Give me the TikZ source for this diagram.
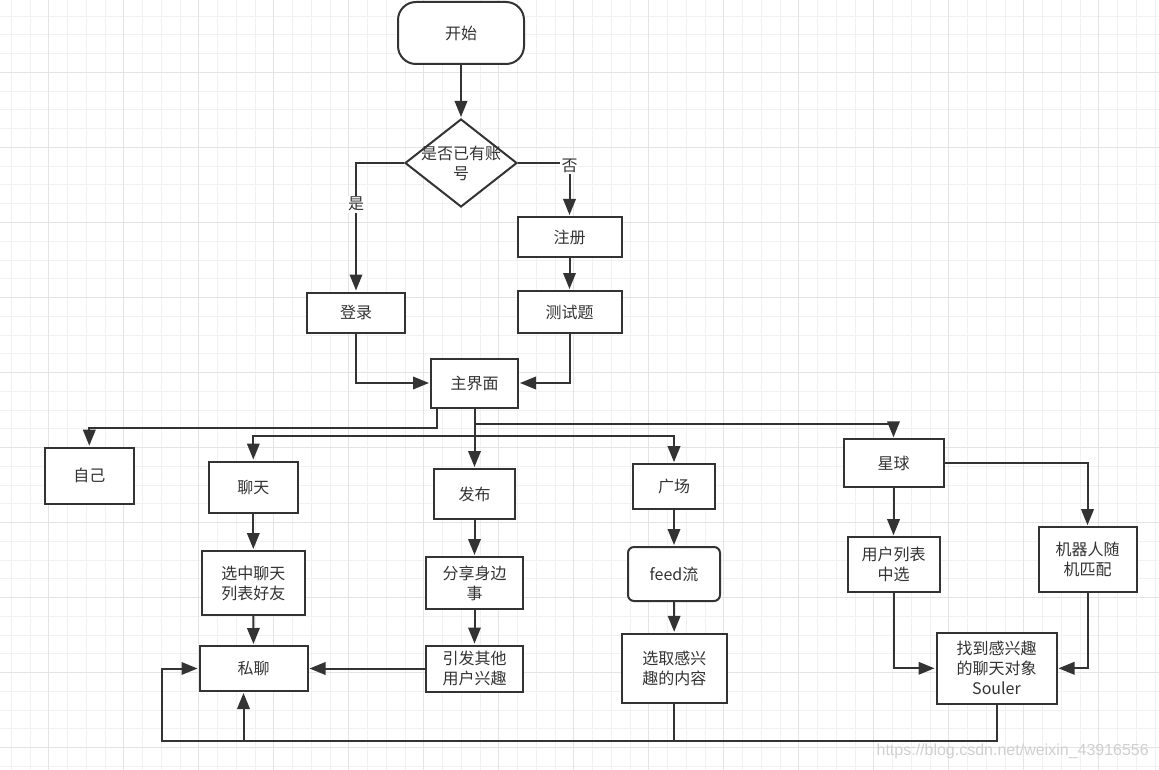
\documentclass[tikz,border=0pt]{standalone}
\usepackage{fontspec}
\setmainfont{Noto Sans CJK SC}
\newfontfamily\wmfont{Liberation Sans}
\usetikzlibrary{arrows.meta,shapes.geometric}
\definecolor{linec}{HTML}{333333}
\definecolor{textc}{HTML}{333333}
\definecolor{gridminor}{HTML}{F1F1F1}
\definecolor{gridmajor}{HTML}{E4E4E4}
\definecolor{wmc}{HTML}{D0D0D0}
\tikzset{
  box/.style={draw=linec, line width=2pt, fill=white, text=textc, align=center,
    inner sep=0pt, font=\fontsize{16}{20}\selectfont},
  txt/.style={text=textc, align=center, inner sep=0pt, font=\fontsize{16}{20}\selectfont},
  lbl/.style={fill=white, text=textc, inner sep=1.5pt, font=\fontsize{16}{20}\selectfont},
  conn/.style={draw=linec, line width=2pt},
  arr/.style={conn, -{Triangle[length=16pt,width=12.5pt]}, shorten >=1pt},
}
\begin{document}
\begin{tikzpicture}[x=1pt,y=-1pt]
\useasboundingbox (0,0) rectangle (1159,770);
\fill[white] (0,0) rectangle (1159,770);
% grid
\foreach \i in {0,...,61} \draw[gridminor, line width=1pt] ({11.25+18.75*\i},0) -- ({11.25+18.75*\i},770);
\foreach \j in {0,...,40} \draw[gridminor, line width=1pt] (0,{16.25+18.75*\j}) -- (1159,{16.25+18.75*\j});
\foreach \i in {0,...,14} \draw[gridmajor, line width=1pt] ({48.75+75*\i},0) -- ({48.75+75*\i},770);
\foreach \j in {0,...,9} \draw[gridmajor, line width=1pt] (0,{72.5+75*\j}) -- (1159,{72.5+75*\j});

% nodes
\node[box, rounded corners=18pt, minimum width=126pt, minimum height=62pt] (start) at (461,33) {开始};
\node[diamond, draw=linec, line width=2pt, fill=white, inner sep=0pt, minimum width=112pt, minimum height=88pt] (q) at (461,163) {};
\node[txt] (qt) at (461,163) {是否已有账\\号};
\node[box, minimum width=98pt, minimum height=40pt] (login) at (356,312.5) {登录};
\node[box, minimum width=104pt, minimum height=40pt] (reg) at (569.5,237) {注册};
\node[box, minimum width=104pt, minimum height=42pt] (test) at (569.5,312) {测试题};
\node[box, minimum width=87pt, minimum height=49pt] (main) at (474.5,383) {主界面};
\node[box, minimum width=89pt, minimum height=56pt] (self) at (89.3,475.7) {自己};
\node[box, minimum width=89pt, minimum height=51pt] (chat) at (253.3,487) {聊天};
\node[box, minimum width=103pt, minimum height=64pt] (sel) at (253.3,583) {选中聊天\\列表好友};
\node[box, minimum width=81pt, minimum height=50pt] (post) at (474.5,494) {发布};
\node[box, minimum width=97pt, minimum height=52pt] (share) at (474.5,583) {分享身边\\事};
\node[box, minimum width=97pt, minimum height=46pt] (attract) at (474.5,668.5) {引发其他\\用户兴趣};
\node[box, minimum width=108pt, minimum height=45pt] (pm) at (253.5,668.5) {私聊};
\node[box, minimum width=82pt, minimum height=45pt] (plaza) at (674,486.7) {广场};
\node[box, rounded corners=6pt, minimum width=92pt, minimum height=54pt] (feed) at (674,574) {feed流};
\node[box, minimum width=105pt, minimum height=69pt] (pick) at (674.3,668.3) {选取感兴\\趣的内容};
\node[box, minimum width=100pt, minimum height=48pt] (planet) at (893.5,463.3) {星球};
\node[box, minimum width=92pt, minimum height=55pt] (ulist) at (893.5,564.7) {用户列表\\中选};
\node[box, minimum width=98pt, minimum height=65pt] (robot) at (1087.5,559.7) {机器人随\\机匹配};
\node[box, minimum width=120pt, minimum height=71pt] (found) at (996.5,668.3) {找到感兴趣\\的聊天对象\\Souler};

\coordinate (loopL) at (162.3,740.7);

% connectors
\draw[arr] (start) -- (q);
\draw[arr] (q.west) -| node[lbl, pos=0.66] (yes) {是} (login);
\draw[arr] (q.east) -| node[lbl, pos=0.5, yshift=-3pt] (no) {否} (reg);
\draw[arr] (reg) -- (test);
\draw[arr] (login) |- (main);
\draw[arr] (test) |- (main);
\draw[arr] ([xshift=-37.5pt]main.south) -- ++(0,19.5) -| (self);
\draw[arr] (main.south) -- ++(0,27) -| (chat);
\draw[arr] (main.south) -- ++(0,27) -| (plaza);
\draw[arr] (main.south) -- ++(0,15) -| (planet);
\draw[arr] (main) -- (post);
\draw[arr] (chat) -- (sel);
\draw[arr] (sel) -- (pm);
\draw[arr] (post) -- (share);
\draw[arr] (share) -- (attract);
\draw[arr] (attract) -- (pm);
\draw[arr] (plaza) -- (feed);
\draw[arr] (feed) -- (pick);
\draw[arr] (planet) -- (ulist);
\draw[arr] (planet.east) -| (robot);
\draw[arr] (ulist) |- (found);
\draw[arr] (robot) |- (found);
\draw[arr] (found.south) |- (loopL) |- (pm.west);
\draw[conn] (pick.south) -- (pick.south |- loopL);
\draw[arr] ([xshift=-10pt]pm.south |- loopL) -- ([xshift=-10pt]pm.south);

% watermark
\node[text=wmc, inner sep=0pt, anchor=east, font=\wmfont\fontsize{16}{18}\selectfont] (wm) at (1149,751) {https://blog.csdn.net/weixin\_43916556};
\end{tikzpicture}
\end{document}
